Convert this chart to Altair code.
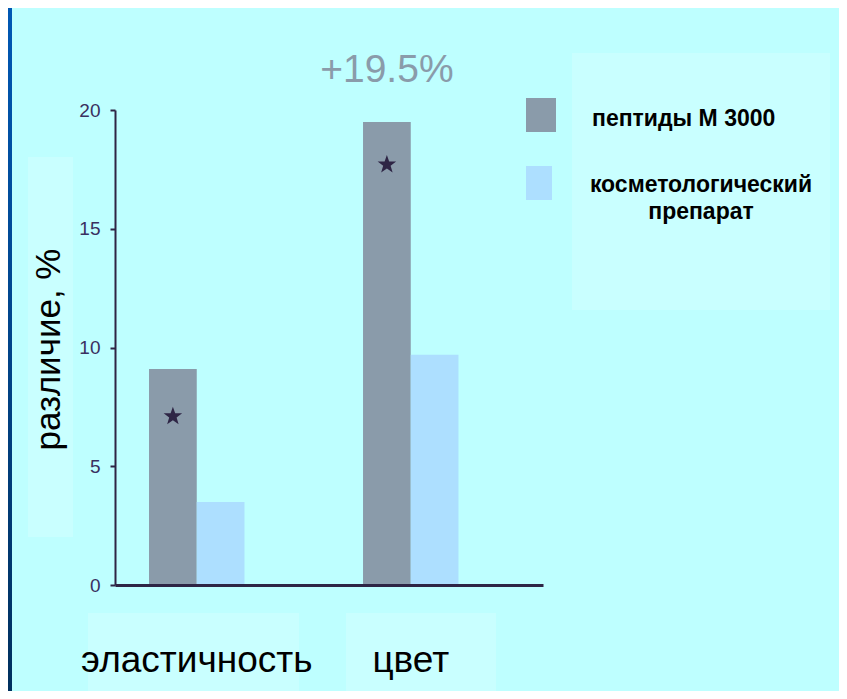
import altair as alt
import pandas as pd

# ---- data ----
categories = ["эластичность", "цвет"]
series = ["пептиды М 3000", "косметологический препарат"]
peptides = [9.1, 19.5]
cosmetic = [3.5, 9.7]
star_values = [7.1, 17.7]
annotation_text = "+19.5%"
annotation_value = 19.5
y_ticks = [0, 5, 10, 15, 20]
y_title = "различие, %"
bar_colors = ["#8A9BAA", "#ADDFFF"]

rows = []
for i, c in enumerate(categories):
    rows.append({"category": c, "series": series[0], "value": peptides[i]})
    rows.append({"category": c, "series": series[1], "value": cosmetic[i]})
df = pd.DataFrame(rows)
stars = pd.DataFrame({"category": categories, "series": [series[0]] * len(categories), "value": star_values})
ann = pd.DataFrame({"category": [categories[1]], "series": [series[0]],
                    "value": [annotation_value], "label": [annotation_text]})
one = pd.DataFrame({"a": [0]})

W, H = 428, 475
SANS = "Liberation Sans, Arial, sans-serif"
DARK = "#2E2545"

x_enc = alt.X("category:N", sort=categories,
              scale=alt.Scale(domain=categories, paddingInner=0.554, paddingOuter=0.277, align=0.287),
              axis=alt.Axis(title=None, labelAngle=0, labelFont=SANS, labelFontSize=37, labelColor="black",
                            labelPadding=75, labelBaseline="middle", labelLimit=0, ticks=False, tickSize=0,
                            domainColor=DARK, domainWidth=3, zindex=1))
xo_enc = alt.XOffset("series:N", sort=series, scale=alt.Scale(domain=series, paddingInner=0, paddingOuter=0))
y_enc = alt.Y("value:Q", scale=alt.Scale(domain=[0, 20], nice=False),
              axis=alt.Axis(values=y_ticks, title=y_title, titleFont=SANS, titleFontSize=35,
                            titleFontWeight="normal", titleColor="black", titleAngle=270,
                            titleX=-67, titleY=239, titleAlign="center", titleBaseline="middle",
                            domainColor=DARK, domainWidth=2, tickColor=DARK, tickWidth=2, tickSize=5,
                            labelFont=SANS, labelFontSize=19, labelColor="#3A3060", labelPadding=10,
                            grid=False, zindex=1))

def box(x1, x2, y1, y2, color):
    return alt.Chart(one).mark_rect(color=color).encode(
        x=alt.value(x1), x2=alt.value(x2), y=alt.value(y1), y2=alt.value(y2))

strip = alt.Chart(one).mark_rect(
    color=alt.Gradient(gradient="linear",
                       stops=[alt.GradientStop(color="#0058B4", offset=0),
                              alt.GradientStop(color="#00305E", offset=1)],
                       x1=0, x2=0, y1=0, y2=1)
).encode(x=alt.value(-107), x2=alt.value(-103), y=alt.value(-102), y2=alt.value(581))

legend_box = box(457, 715, -57, 200, "#C9FFFF")
title_box = box(-87, -42, 47, 427, "#C9FFFF")
lab_box1 = box(-27, 184, 503, 590, "#C9FFFF")
lab_box2 = box(231, 381, 503, 590, "#C9FFFF")

bars = alt.Chart(df).mark_bar().encode(
    x=x_enc, xOffset=xo_enc, y=y_enc,
    color=alt.Color("series:N", scale=alt.Scale(domain=series, range=bar_colors), legend=None),
)

star_path = ("M0,-1L0.235,-0.324L0.951,-0.309L0.38,0.124L0.588,0.809L0,0.4"
             "L-0.588,0.809L-0.38,0.124L-0.951,-0.309L-0.235,-0.324Z")
star_layer = alt.Chart(stars).mark_point(shape=star_path, filled=True, size=380, color=DARK, opacity=1).encode(
    x=alt.X("category:N", sort=categories), xOffset=alt.XOffset("series:N", sort=series), y="value:Q")

ann_layer = alt.Chart(ann).mark_text(font=SANS, fontSize=39, color="#8A9BAA", baseline="middle",
                                     align="center", dy=-52).encode(
    x=alt.X("category:N", sort=categories), xOffset=alt.XOffset("series:N", sort=series),
    y="value:Q", text="label:N")

# manual legend
leg_sq1 = box(411, 441, -12, 22, bar_colors[0])
leg_sq2 = box(411, 437, 56, 90, bar_colors[1])
leg_t1 = alt.Chart(one).mark_text(text=series[0], font=SANS, fontSize=23, fontWeight="bold", color="black",
                                  align="left", baseline="middle").encode(x=alt.value(477), y=alt.value(9))
leg_t2 = alt.Chart(one).mark_text(text=series[1], font=SANS, fontSize=23, fontWeight="bold", color="black",
                                  align="center", baseline="middle", lineBreak=" ", lineHeight=27).encode(
    x=alt.value(586), y=alt.value(75))

chart = alt.layer(
    strip, legend_box, title_box, lab_box1, lab_box2,
    bars, star_layer, ann_layer, leg_sq1, leg_sq2, leg_t1, leg_t2,
).properties(
    width=W, height=H,
    autosize=alt.AutoSizeParams(type="none"),
    padding={"left": 107, "top": 102, "right": 296, "bottom": 106},
    background="#BEFFFF",
).configure_view(stroke=None)

chart.save("out.html", embed_options={"renderer": "svg", "actions": False})
